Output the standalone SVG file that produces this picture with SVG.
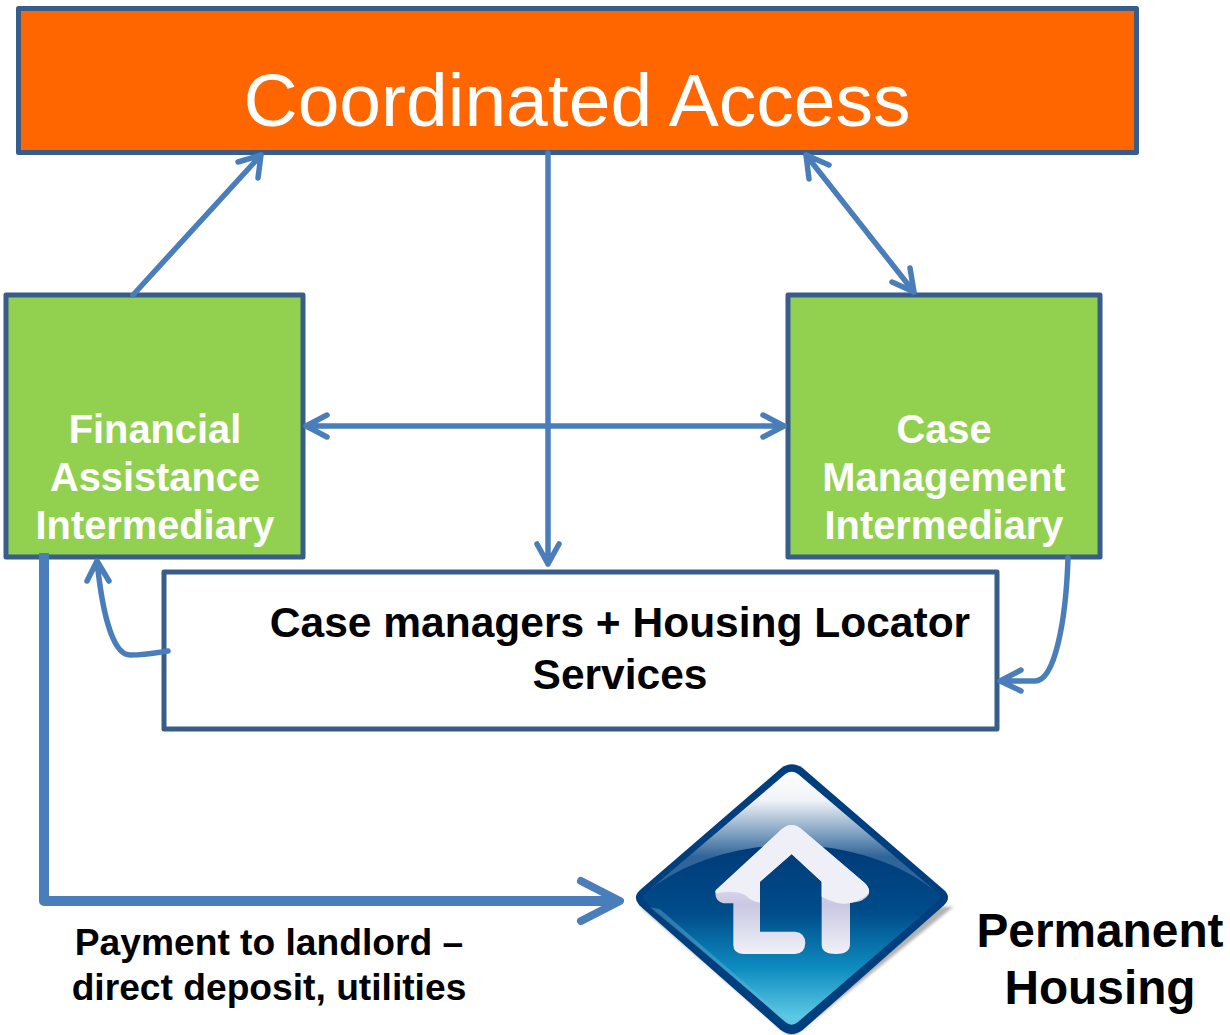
<svg xmlns="http://www.w3.org/2000/svg" width="1230" height="1035" viewBox="0 0 1230 1035">
<style>
.box{stroke:#385d8a;stroke-width:5;stroke-linejoin:round}
.t{font-family:"Liberation Sans",Arial,sans-serif;font-weight:700;text-anchor:middle}
.w{fill:#fff;font-size:39.800px}
.k{fill:#000}
.c{fill:none;stroke:#4a7ebb;stroke-width:5.500;stroke-linecap:round;stroke-linejoin:round}
</style>
<defs>
<linearGradient id="body" x1="0" y1="280" x2="0" y2="800" gradientUnits="userSpaceOnUse">
<stop offset="0" stop-color="#003a78"/><stop offset=".4" stop-color="#004c8a"/><stop offset=".72" stop-color="#0e8cc0"/><stop offset="1" stop-color="#5cc8e4"/>
</linearGradient>
<linearGradient id="gloss" x1="0" y1="60" x2="0" y2="320" gradientUnits="userSpaceOnUse">
<stop offset="0" stop-color="#fff"/><stop offset=".35" stop-color="#f0f3f7"/><stop offset=".7" stop-color="#8aa8c6"/><stop offset="1" stop-color="#2f6598"/>
</linearGradient>
<linearGradient id="house" x1="0" y1="225" x2="0" y2="612" gradientUnits="userSpaceOnUse">
<stop offset="0" stop-color="#ebebf5"/><stop offset=".5" stop-color="#d8d6ea"/><stop offset=".62" stop-color="#c9c7e2"/><stop offset="1" stop-color="#f1f1f8"/>
</linearGradient>
<filter id="sh" x="-10%" y="-10%" width="125%" height="125%"><feGaussianBlur stdDeviation="5"/></filter>
</defs>

<g id="coordinated-access">
<rect class="box" x="18.500" y="8.500" width="1118" height="144" fill="#ff6600"/>
<text x="577" y="126" font-family="Liberation Sans, Arial, sans-serif" font-size="75" fill="#fff" text-anchor="middle">Coordinated Access</text>
</g>

<g id="financial-assistance">
<rect class="box" x="6" y="295" width="297" height="262" fill="#92d050"/>
<text class="t w" x="155" y="443">Financial</text>
<text class="t w" x="155" y="491">Assistance</text>
<text class="t w" x="155" y="539">Intermediary</text>
</g>

<g id="case-management">
<rect class="box" x="788" y="295" width="312" height="262" fill="#92d050"/>
<text class="t w" x="944" y="443">Case</text>
<text class="t w" x="944" y="491">Management</text>
<text class="t w" x="944" y="539">Intermediary</text>
</g>

<g id="case-managers">
<rect class="box" x="164" y="572" width="833" height="157" fill="#fff"/>
<text class="t k" font-size="42.500" x="620" y="637">Case managers + Housing Locator</text>
<text class="t k" font-size="42.500" x="620" y="689">Services</text>
</g>

<g id="connectors">
<path class="c" d="M133 295L261 155M258 178L261 155L238 162"/>
<path class="c" d="M548 153V564M537 544L548 564L559 544"/>
<path class="c" d="M806 155L914 292M809 179L806 155L829 165M892 282L914 292L910 268"/>
<path class="c" d="M306 426H784M327 415L306 426L327 437M763 415L784 426L763 437"/>
<path class="c" d="M97 561C102 610 112 655 130 655C145 655 155 653 168 651M87 581L97 561L109 581"/>
<path class="c" d="M1068 558C1066 620 1055 681 1035 681H1000M1021 670L1000 681L1021 691"/>
<path d="M44 553V901H618" fill="none" stroke="#4a7ebb" stroke-width="10" stroke-linejoin="round"/>
<path d="M581 881L620 901L581 921" fill="none" stroke="#4a7ebb" stroke-width="8" stroke-linecap="round" stroke-linejoin="round"/>
</g>

<g id="permanent-housing">
<g transform="translate(620 750) scale(.33333)">
<path d="M60 470L515 865L1000 470Z" fill="#555" opacity=".45" filter="url(#sh)"/>
<path d="M484 54Q515 32 548 54L972 420Q996 442 972 466L548 840Q515 864 482 840L58 466Q36 442 60 420Z" fill="#003f7d"/>
<path d="M496 72Q515 58 534 72L956 432Q966 442 956 452L534 816Q515 832 496 816L74 452Q64 442 74 432Z" fill="url(#body)"/>
<path d="M496 72Q515 58 534 72L954 430C850 340 680 285 515 285C350 285 180 340 76 430Z" fill="url(#gloss)"/>
<path d="M90 472L120 478L505 812L500 815Z" fill="#6fb6d6" opacity=".4"/>
<path d="M485 238Q515 212 545 238L735 400Q760 425 735 445Q720 458 690 458V585Q688 612 648 612Q606 612 605 585V395L515 312L420 395V545H525Q556 548 556 580Q554 612 525 612H370Q340 610 340 585V460H310Q280 450 288 420Z" fill="url(#house)"/>
<path d="M485 238Q515 212 545 238L735 400Q752 418 745 432Q700 470 650 458Q628 452 605 440V395L515 312L420 395V458Q395 455 375 435Q340 418 288 430Q284 425 288 420Z" fill="#efeff8"/>
</g>
<text class="t k" font-size="47.800" x="1100" y="947">Permanent</text>
<text class="t k" font-size="47.800" x="1100" y="1004">Housing</text>
</g>

<g id="payment-label">
<text class="t k" font-size="37.200" x="269" y="955">Payment to landlord –</text>
<text class="t k" font-size="37.200" x="269" y="1000">direct deposit, utilities</text>
</g>
</svg>
